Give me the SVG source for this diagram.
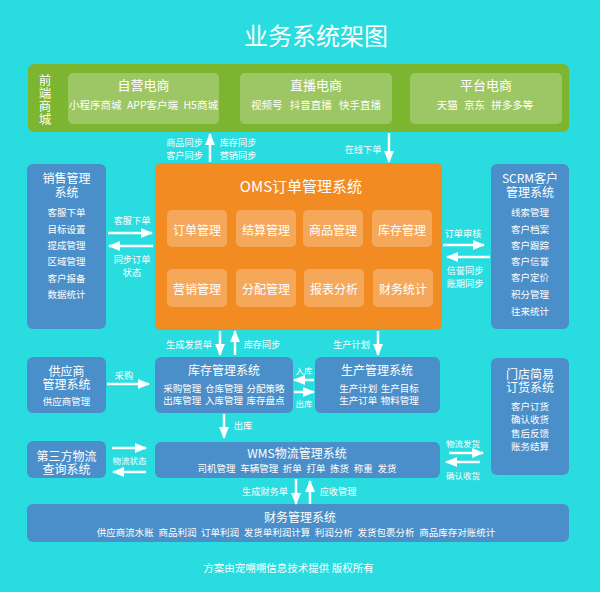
<svg xmlns="http://www.w3.org/2000/svg" width="600" height="592" viewBox="0 0 600 592">
<style>
text{font-family:"Noto Sans CJK SC","Noto Sans",sans-serif;fill:#fff;text-anchor:middle;dominant-baseline:central}
.title{font-size:24px}
.h1{font-size:13px}
.vt{font-size:12.5px;writing-mode:vertical-rl;letter-spacing:0.5px}
.sub{font-size:10.5px}
.oms{font-size:15px}
.cell{font-size:12px}
.bt{font-size:12px}
.it{font-size:9.5px;word-spacing:1.5px}
.lb{font-size:9.2px}
.sm{font-size:8.5px}
.blue{fill:#4a8fc9}
.panel{fill:#fff;fill-opacity:0.25}
.conn line{stroke:#fff;stroke-width:2.5;marker-end:url(#ah)}
</style>
<defs>
<marker id="ah" viewBox="0 0 12 10" refX="11" refY="5" markerWidth="12" markerHeight="10" markerUnits="userSpaceOnUse" orient="auto">
<path d="M0,0 L12,5 L0,10 z" fill="#fff"/>
</marker>
</defs>
<rect width="600" height="592" fill="#28dcdf"/>
<text class="title" x="316" y="34">业务系统架图</text>

<g id="frontend">
<rect x="28" y="64" width="541" height="68" rx="6" fill="#7cb530"/>
<text class="vt" x="45" y="99.5">前端商城</text>
</g>
<g id="ziying">
<rect class="panel" x="68" y="73" width="151" height="51" rx="5"/>
<text class="h1" x="143.5" y="84">自营电商</text>
<text class="sub" x="143.5" y="104" style="word-spacing:3px">小程序商城 APP客户端 H5商城</text>
</g>
<g id="zhibo">
<rect class="panel" x="240" y="73" width="152" height="51" rx="5"/>
<text class="h1" x="316" y="84">直播电商</text>
<text class="sub" x="316" y="104" style="word-spacing:5px">视频号 抖音直播 快手直播</text>
</g>
<g id="pingtai">
<rect class="panel" x="410" y="73" width="152" height="51" rx="5"/>
<text class="h1" x="486" y="84">平台电商</text>
<text class="sub" x="485" y="104" style="word-spacing:4px">天猫 京东 拼多多等</text>
</g>

<g id="oms">
<rect x="155" y="163" width="287" height="167" rx="6" fill="#f28b22"/>
<text class="oms" x="301" y="185">OMS订单管理系统</text>
<rect class="panel" x="167" y="210" width="60" height="37" rx="5"/>
<rect class="panel" x="236" y="210" width="60" height="37" rx="5"/>
<rect class="panel" x="303" y="210" width="60" height="37" rx="5"/>
<rect class="panel" x="372" y="210" width="60" height="37" rx="5"/>
<rect class="panel" x="167" y="269" width="60" height="38" rx="5"/>
<rect class="panel" x="236" y="269" width="60" height="38" rx="5"/>
<rect class="panel" x="304" y="269" width="60" height="38" rx="5"/>
<rect class="panel" x="373" y="269" width="60" height="38" rx="5"/>
<text class="cell" x="197" y="229">订单管理</text>
<text class="cell" x="266" y="229">结算管理</text>
<text class="cell" x="333" y="229">商品管理</text>
<text class="cell" x="402" y="229">库存管理</text>
<text class="cell" x="197" y="288">营销管理</text>
<text class="cell" x="266" y="288">分配管理</text>
<text class="cell" x="334" y="288">报表分析</text>
<text class="cell" x="403" y="288">财务统计</text>
</g>

<g id="sales">
<rect class="blue" x="27" y="164" width="79" height="165" rx="6"/>
<text class="bt" x="66.5" y="177">销售管理<tspan x="66.5" dy="14">系统</tspan></text>
<text class="it" x="66.5" y="212">客服下单</text>
<text class="it" x="66.5" y="229">目标设置</text>
<text class="it" x="66.5" y="245">提成管理</text>
<text class="it" x="66.5" y="261">区域管理</text>
<text class="it" x="66.5" y="278">客户报备</text>
<text class="it" x="66.5" y="294">数据统计</text>
</g>

<g id="scrm">
<rect class="blue" x="491" y="164" width="78" height="165" rx="6"/>
<text class="bt" x="530" y="177">SCRM客户<tspan x="530" dy="14">管理系统</tspan></text>
<text class="it" x="530" y="212">线索管理</text>
<text class="it" x="530" y="229">客户档案</text>
<text class="it" x="530" y="245">客户跟踪</text>
<text class="it" x="530" y="261">客户信誉</text>
<text class="it" x="530" y="277">客户定价</text>
<text class="it" x="530" y="294">积分管理</text>
<text class="it" x="530" y="311">往来统计</text>
</g>

<g id="supplier">
<rect class="blue" x="27" y="357" width="79" height="56" rx="6"/>
<text class="bt" x="66.5" y="370">供应商<tspan x="66.5" dy="13">管理系统</tspan></text>
<text class="it" x="66.5" y="401">供应商管理</text>
</g>

<g id="inventory">
<rect class="blue" x="155" y="357" width="138" height="56" rx="6"/>
<text class="bt" x="224" y="369">库存管理系统</text>
<text class="it" x="224" y="388">采购管理 仓库管理 分配策略<tspan x="224" dy="12">出库管理 入库管理 库存盘点</tspan></text>
</g>

<g id="production">
<rect class="blue" x="315" y="357" width="125" height="56" rx="6"/>
<text class="bt" x="377" y="369">生产管理系统</text>
<text class="it" x="379" y="388">生产计划 生产目标<tspan x="379" dy="12">生产订单 物料管理</tspan></text>
</g>

<g id="store">
<rect class="blue" x="491" y="358" width="78" height="117" rx="6"/>
<text class="bt" x="530" y="373">门店简易<tspan x="530" dy="13">订货系统</tspan></text>
<text class="it" x="530" y="406">客户订货</text>
<text class="it" x="530" y="419">确认收货</text>
<text class="it" x="530" y="433">售后反馈</text>
<text class="it" x="530" y="446">账务结算</text>
</g>

<g id="thirdparty">
<rect class="blue" x="27" y="441" width="79" height="37" rx="6"/>
<text class="bt" x="66.5" y="455">第三方物流<tspan x="66.5" dy="13">查询系统</tspan></text>
</g>

<g id="wms">
<rect class="blue" x="155" y="442" width="285" height="36" rx="6"/>
<text class="bt" x="297" y="452">WMS物流管理系统</text>
<text class="it" x="297" y="468" style="word-spacing:2.5px">司机管理 车辆管理 折单 打单 拣货 称重 发货</text>
</g>

<g id="finance">
<rect class="blue" x="27" y="504" width="542" height="38" rx="6"/>
<text class="bt" x="300" y="516">财务管理系统</text>
<text class="it" x="296" y="532" style="word-spacing:2.5px">供应商流水账 商品利润 订单利润 发货单利润计算 利润分析 发货包裹分析 商品库存对账统计</text>
</g>

<g class="conn" id="connectors">
<line x1="210" y1="162" x2="210" y2="134"/>
<line x1="389" y1="133" x2="389" y2="162"/>
<line x1="108" y1="233" x2="152" y2="233"/>
<line x1="153" y1="246" x2="109" y2="246"/>
<line x1="443" y1="245" x2="484" y2="245"/>
<line x1="490" y1="257" x2="447" y2="257"/>
<line x1="107" y1="384" x2="149" y2="384"/>
<line x1="220" y1="331" x2="220" y2="355"/>
<line x1="235" y1="355" x2="235" y2="331"/>
<line x1="378" y1="331" x2="378" y2="355"/>
<line x1="314" y1="380" x2="294" y2="380"/>
<line x1="294" y1="392" x2="314" y2="392"/>
<line x1="224" y1="414" x2="224" y2="438"/>
<line x1="112" y1="448" x2="146" y2="448"/>
<line x1="146" y1="472" x2="113" y2="472"/>
<line x1="449" y1="453" x2="483" y2="453"/>
<line x1="480" y1="462" x2="446" y2="462"/>
<line x1="296" y1="479" x2="296" y2="504"/>
<line x1="310" y1="504" x2="310" y2="481"/>
<text class="lb" x="184.5" y="142">商品同步<tspan x="184.5" dy="13">客户同步</tspan></text>
<text class="lb" x="238" y="142">库存同步<tspan x="238" dy="13">营销同步</tspan></text>
<text class="lb" x="363" y="149">在线下单</text>
<text class="lb" x="132" y="220">客服下单</text>
<text class="lb" x="132" y="259">同步订单<tspan x="132" dy="13">状态</tspan></text>
<text class="lb" x="463" y="233">订单审核</text>
<text class="lb" x="465" y="270">信誉同步<tspan x="465" dy="13">账期同步</tspan></text>
<text class="lb" x="124" y="375">采购</text>
<text class="lb" x="189" y="344">生成发货单</text>
<text class="lb" x="262" y="344">库存同步</text>
<text class="lb" x="351.5" y="344">生产计划</text>
<text class="sm" x="304" y="370">入库</text>
<text class="sm" x="304" y="403">出库</text>
<text class="lb" x="243" y="425">出库</text>
<text class="sm" x="129.5" y="460">物流状态</text>
<text class="sm" x="463" y="443">物流发货</text>
<text class="sm" x="463" y="475">确认收货</text>
<text class="lb" x="265" y="491">生成财务单</text>
<text class="lb" x="338" y="491">应收管理</text>
</g>

<text class="sub" x="288.5" y="567">方案由宠嗍嗍信息技术提供 版权所有</text>
</svg>
